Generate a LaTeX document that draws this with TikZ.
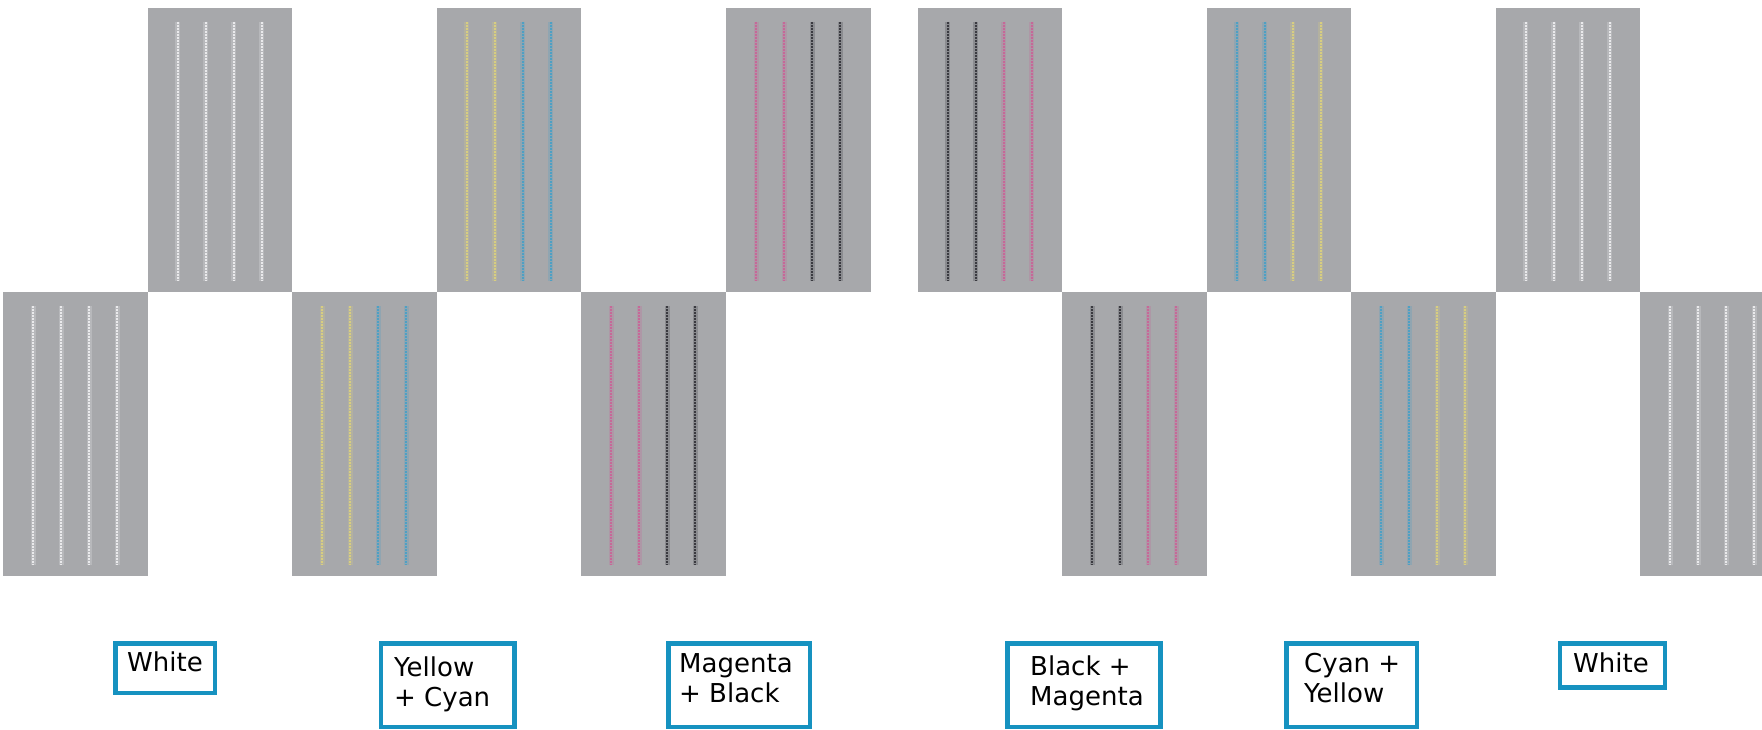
\documentclass[tikz,border=0pt]{standalone}
\usepackage{fontspec}
\newfontfamily\lblfont{DejaVu Sans}
\definecolor{panelgray}{RGB}{167,168,171}
\definecolor{inkwhite}{RGB}{234,234,236}
\definecolor{inkyellow}{RGB}{216,206,128}
\definecolor{inkcyan}{RGB}{78,160,196}
\definecolor{inkmagenta}{RGB}{198,104,152}
\definecolor{inkblack}{RGB}{58,58,64}
\definecolor{frameblue}{RGB}{22,146,192}
\tikzset{
  panel/.style={fill=panelgray, draw=none},
  nozzle/.style={line width=2.1pt, dash pattern=on 1.8pt off 1.2pt},
  halo/.style={line width=5pt, opacity=0.25},
  labelframe/.style={draw=frameblue, line width=4.5pt, fill=white, inner sep=0pt},
  labeltext/.style={font=\lblfont\fontsize{26}{30}\selectfont, align=left, inner sep=0pt, anchor=base west, text=black},
}
\newcommand\printpanel[6]{%
  \fill[panel] (#1,#2) rectangle ++(144.6,284);
  \foreach \dx/\c in {30/#3, 58/#4, 86/#5, 114/#6} {
    \draw[halo, \c] (#1+\dx, #2+14) -- (#1+\dx, #2+273);
    \draw[nozzle, \c] (#1+\dx, #2+14) -- (#1+\dx, #2+273);
  }%
}
\begin{document}
\begin{tikzpicture}[x=1pt, y=-1pt]
  \useasboundingbox (0,0) rectangle (1762,730);
  \clip (0,0) rectangle (1762,730);
  % left half
  \printpanel{3}{292}{inkwhite}{inkwhite}{inkwhite}{inkwhite}
  \printpanel{147.6}{8}{inkwhite}{inkwhite}{inkwhite}{inkwhite}
  \printpanel{292.2}{292}{inkyellow}{inkyellow}{inkcyan}{inkcyan}
  \printpanel{436.8}{8}{inkyellow}{inkyellow}{inkcyan}{inkcyan}
  \printpanel{581.4}{292}{inkmagenta}{inkmagenta}{inkblack}{inkblack}
  \printpanel{726.0}{8}{inkmagenta}{inkmagenta}{inkblack}{inkblack}
  % right half
  \printpanel{917.7}{8}{inkblack}{inkblack}{inkmagenta}{inkmagenta}
  \printpanel{1062.2}{292}{inkblack}{inkblack}{inkmagenta}{inkmagenta}
  \printpanel{1206.7}{8}{inkcyan}{inkcyan}{inkyellow}{inkyellow}
  \printpanel{1351.2}{292}{inkcyan}{inkcyan}{inkyellow}{inkyellow}
  \printpanel{1495.7}{8}{inkwhite}{inkwhite}{inkwhite}{inkwhite}
  \printpanel{1640.2}{292}{inkwhite}{inkwhite}{inkwhite}{inkwhite}
  % label frames
  \node[labelframe, minimum width=99.5pt, minimum height=49.5pt] (fw1) at (165,668) {};
  \node[labelframe, minimum width=133.5pt, minimum height=83.5pt] (fyc) at (447.5,685) {};
  \node[labelframe, minimum width=141.5pt, minimum height=83.5pt] (fmb) at (739,685) {};
  \node[labelframe, minimum width=153pt, minimum height=83.5pt] (fbm) at (1083.75,685) {};
  \node[labelframe, minimum width=130.5pt, minimum height=83.5pt] (fcy) at (1351.5,685) {};
  \node[labelframe, minimum width=105.2pt, minimum height=44pt] (fw2) at (1612.5,665.25) {};
  % label texts (two-line nodes are anchored on their last baseline)
  \node[labeltext] (tw1) at (127,671) {White};
  \node[labeltext] (tyc) at (394,706) {Yellow\\+ Cyan};
  \node[labeltext] (tmb) at (679,702) {Magenta\\+ Black};
  \node[labeltext] (tbm) at (1030,705) {Black +\\Magenta};
  \node[labeltext] (tcy) at (1304,702) {Cyan +\\Yellow};
  \node[labeltext] (tw2) at (1573,672) {White};
\end{tikzpicture}
\end{document}
